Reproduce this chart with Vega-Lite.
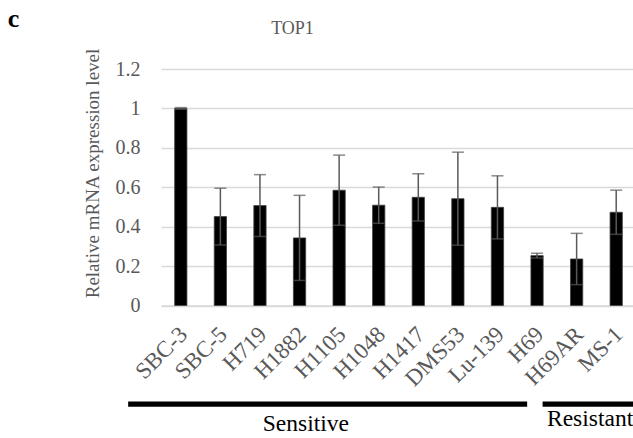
{
  "$schema": "https://vega.github.io/schema/vega-lite/v6.json",
  "autosize": {"type": "none"},
  "width": 475,
  "height": 236.5,
  "padding": {"left": 161, "top": 69, "right": 0, "bottom": 132.5},
  "background": "white",
  "config": {
    "view": {"stroke": null},
    "font": "Liberation Serif",
    "title": {"font": "Liberation Serif"},
    "axisY": {
      "titleFont": "Liberation Serif",
      "titleFontSize": 19,
      "titleFontWeight": "normal",
      "titleColor": "#595959",
      "labelFontSize": 20,
      "labelColor": "#595959",
      "labelFont": "Liberation Serif",
      "labelPadding": 21,
      "ticks": false,
      "domain": false,
      "gridColor": "#d9d9d9",
      "gridWidth": 1.3
    }
  },
  "title": {
    "text": "TOP1",
    "fontSize": 18,
    "fontWeight": "normal",
    "color": "#595959",
    "anchor": "middle",
    "frame": "group",
    "baseline": "alphabetic",
    "offset": -46,
    "dx": -106
  },
  "datasets": {
    "expr": [
      {"line": "SBC-3", "value": 1.0, "lo": 0.996, "hi": 1.004},
      {"line": "SBC-5", "value": 0.451, "lo": 0.307, "hi": 0.595},
      {"line": "H719", "value": 0.507, "lo": 0.35, "hi": 0.664},
      {"line": "H1882", "value": 0.343, "lo": 0.127, "hi": 0.559},
      {"line": "H1105", "value": 0.585, "lo": 0.407, "hi": 0.763},
      {"line": "H1048", "value": 0.509, "lo": 0.417, "hi": 0.601},
      {"line": "H1417", "value": 0.549, "lo": 0.429, "hi": 0.669},
      {"line": "DMS53", "value": 0.542, "lo": 0.306, "hi": 0.778},
      {"line": "Lu-139", "value": 0.498, "lo": 0.338, "hi": 0.658},
      {"line": "H69", "value": 0.253, "lo": 0.241, "hi": 0.265},
      {"line": "H69AR", "value": 0.236, "lo": 0.106, "hi": 0.366},
      {"line": "MS-1", "value": 0.473, "lo": 0.361, "hi": 0.585}
    ],
    "groups": [
      {"group": "Sensitive", "start": -0.83, "end": 9.25, "ly": -0.5, "tx": 3.66, "ty": -0.637},
      {"group": "Resistant", "start": 9.64, "end": 12.2, "ly": -0.5, "tx": 10.84, "ty": -0.612}
    ],
    "panel": [
      {"label": "c", "px": -3.87, "py": 1.414}
    ]
  },
  "layer": [
    {
      "data": {"name": "expr"},
      "encoding": {
        "x": {
          "field": "line",
          "type": "nominal",
          "sort": null,
          "scale": {"paddingInner": 0.69, "paddingOuter": 0.345},
          "axis": {
            "title": null,
            "labelAngle": -45,
            "labelAlign": "right",
            "labelBaseline": "middle",
            "labelFontSize": 23,
            "labelColor": "#595959",
            "labelFont": "Liberation Serif",
            "labelPadding": 25,
            "labelOffset": 3,
            "labelOverlap": false,
            "ticks": false,
            "domain": true,
            "domainColor": "#d9d9d9",
            "domainWidth": 1.3,
            "grid": false
          }
        }
      },
      "layer": [
        {
          "mark": {"type": "bar", "color": "black", "stroke": "#404040", "strokeWidth": 0.8},
          "encoding": {
            "y": {
              "field": "value",
              "type": "quantitative",
              "scale": {"domain": [0, 1.2], "nice": false, "zero": true},
              "axis": {"title": "Relative mRNA expression level", "titleAngle": -90, "titleAlign": "center", "titleBaseline": "middle", "titleX": -69, "titleY": 104, "values": [0, 0.2, 0.4, 0.6, 0.8, 1, 1.2], "format": ".1~f", "labelOverlap": false, "grid": true}
            }
          }
        },
        {
          "mark": {"type": "rule", "color": "#595959", "strokeWidth": 1.5},
          "encoding": {
            "y": {"field": "lo", "type": "quantitative", "axis": {"title": "Relative mRNA expression level", "titleAngle": -90, "titleAlign": "center", "titleBaseline": "middle", "titleX": -69, "titleY": 104, "values": [0, 0.2, 0.4, 0.6, 0.8, 1, 1.2], "format": ".1~f", "labelOverlap": false, "grid": true}},
            "y2": {"field": "hi"}
          }
        },
        {
          "mark": {"type": "tick", "color": "#595959", "thickness": 1.5, "size": 12, "orient": "horizontal"},
          "encoding": {"y": {"field": "lo", "type": "quantitative", "axis": {"title": "Relative mRNA expression level", "titleAngle": -90, "titleAlign": "center", "titleBaseline": "middle", "titleX": -69, "titleY": 104, "values": [0, 0.2, 0.4, 0.6, 0.8, 1, 1.2], "format": ".1~f", "labelOverlap": false, "grid": true}}}
        },
        {
          "mark": {"type": "tick", "color": "#595959", "thickness": 1.5, "size": 12, "orient": "horizontal"},
          "encoding": {"y": {"field": "hi", "type": "quantitative", "axis": {"title": "Relative mRNA expression level", "titleAngle": -90, "titleAlign": "center", "titleBaseline": "middle", "titleX": -69, "titleY": 104, "values": [0, 0.2, 0.4, 0.6, 0.8, 1, 1.2], "format": ".1~f", "labelOverlap": false, "grid": true}}}
        }
      ]
    },
    {
      "data": {"name": "groups"},
      "encoding": {},
      "layer": [
        {
          "mark": {"type": "rule", "color": "black", "strokeWidth": 5.3, "clip": false},
          "encoding": {
            "x": {"field": "start", "type": "quantitative", "scale": {"domain": [0, 12], "nice": false, "zero": false}, "axis": null},
            "x2": {"field": "end"},
            "y": {"field": "ly", "type": "quantitative", "scale": {"domain": [0, 1.2], "nice": false}, "axis": null}
          }
        },
        {
          "mark": {"type": "text", "color": "black", "fontSize": 23.5, "font": "Liberation Serif", "align": "center", "baseline": "alphabetic", "clip": false},
          "encoding": {
            "x": {"field": "tx", "type": "quantitative", "scale": {"domain": [0, 12], "nice": false, "zero": false}, "axis": null},
            "y": {"field": "ty", "type": "quantitative", "scale": {"domain": [0, 1.2], "nice": false}, "axis": null},
            "text": {"field": "group"}
          }
        }
      ]
    },
    {
      "data": {"name": "panel"},
      "mark": {"type": "text", "color": "black", "fontSize": 26, "fontWeight": "bold", "font": "Liberation Serif", "align": "left", "baseline": "alphabetic", "clip": false},
      "encoding": {
        "x": {"field": "px", "type": "quantitative", "scale": {"domain": [0, 12], "nice": false, "zero": false}, "axis": null},
        "y": {"field": "py", "type": "quantitative", "scale": {"domain": [0, 1.2], "nice": false}, "axis": null},
        "text": {"field": "label"}
      }
    }
  ],
  "resolve": {"scale": {"x": "independent", "y": "independent"}, "axis": {"x": "independent", "y": "independent"}}
}
